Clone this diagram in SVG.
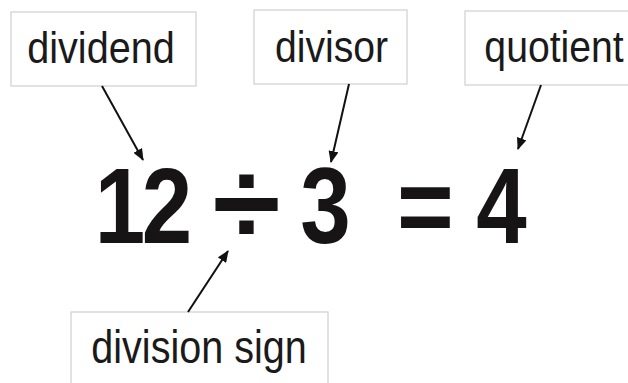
<svg xmlns="http://www.w3.org/2000/svg" width="628" height="383" viewBox="0 0 628 383">
<style>
.box{fill:#fff;stroke:#cfcfcf;stroke-width:1.2}
.lbl{font-family:"Liberation Sans",Arial,sans-serif;font-size:45px;fill:#1a1a1a;text-anchor:middle}
.num{font-family:"Liberation Sans",Arial,sans-serif;font-weight:bold;font-size:108px;fill:#161414;text-anchor:middle}
.conn{stroke:#111;stroke-width:2;fill:none;marker-end:url(#ah)}
</style>
<defs>
<marker id="ah" viewBox="0 0 12 10" refX="11" refY="5" markerWidth="6" markerHeight="5" orient="auto" markerUnits="strokeWidth">
<path d="M0,0 L12,5 L0,10 Z" fill="#111"/>
</marker>
</defs>
<rect width="628" height="383" fill="#fff"/>
<g id="dividend"><rect class="box" x="11" y="12" width="185" height="74"/><text class="lbl" transform="translate(101,63) scale(0.88,1)">dividend</text></g>
<g id="divisor"><rect class="box" x="254" y="10" width="153" height="74"/><text class="lbl" transform="translate(331.5,62) scale(0.87,1)">divisor</text></g>
<g id="quotient"><rect class="box" x="465" y="11" width="170" height="74"/><text class="lbl" transform="translate(554,62) scale(0.87,1)">quotient</text></g>
<g id="division-sign"><rect class="box" x="71" y="312" width="257" height="80"/><text class="lbl" style="font-size:46px" transform="translate(199,363) scale(0.86,1)">division sign</text></g>
<g id="equation">
<text class="num" transform="translate(120,243) scale(0.84,1)">1</text>
<text class="num" transform="translate(167,243) scale(0.84,1)">2</text>
<text class="num" style="font-size:118px" transform="translate(246.5,244) scale(1.05,1)">÷</text>
<text class="num" transform="translate(325.5,243) scale(0.84,1)">3</text>
<text class="num" transform="translate(425.5,243) scale(0.9,1)">=</text>
<text class="num" transform="translate(501.5,243) scale(0.84,1)">4</text>
</g>
<g id="connectors">
<line class="conn" x1="102" y1="86" x2="143" y2="160"/>
<line class="conn" x1="349" y1="84" x2="331" y2="162"/>
<line class="conn" x1="541" y1="85" x2="518" y2="149"/>
<line class="conn" x1="188" y1="312" x2="228" y2="251"/>
</g>
</svg>
